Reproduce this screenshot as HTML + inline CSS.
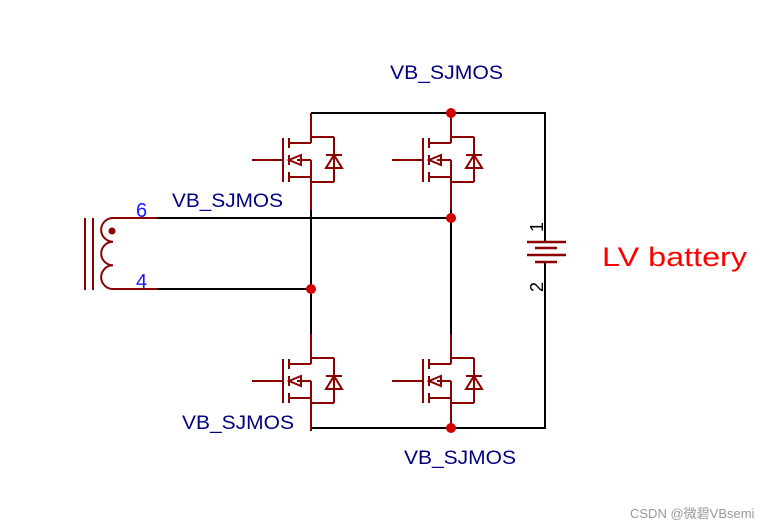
<!DOCTYPE html>
<html><head><meta charset="utf-8"><style>
html,body{margin:0;padding:0;background:#fff;}
svg{display:block;}
text{font-family:"Liberation Sans","Noto Sans CJK SC",sans-serif;}
</style></head><body>
<svg width="767" height="527" viewBox="0 0 767 527" xmlns="http://www.w3.org/2000/svg">
<defs>
<g id="m" fill="none" stroke="#8b0000" stroke-width="2">
  <line x1="0" y1="-24" x2="0" y2="6"/>
  <line x1="0" y1="23" x2="0" y2="73"/>
  <line x1="0" y1="0" x2="23" y2="0"/>
  <line x1="23" y1="0" x2="23" y2="45"/>
  <line x1="0" y1="45" x2="23" y2="45"/>
  <line x1="-28" y1="1" x2="-28" y2="45"/>
  <line x1="-22" y1="1" x2="-22" y2="11"/>
  <line x1="-22" y1="18" x2="-22" y2="28"/>
  <line x1="-22" y1="35" x2="-22" y2="45"/>
  <line x1="-22" y1="6" x2="0" y2="6"/>
  <line x1="-14" y1="23" x2="0" y2="23"/>
  <line x1="-22" y1="40" x2="0" y2="40"/>
  <line x1="-59" y1="23" x2="-28" y2="23"/>
  <polygon points="-22,23 -10,18 -10,28"/>
  <line x1="15" y1="18" x2="31" y2="18"/>
  <polygon points="23,18 15,31 31,31"/>
</g>
</defs>
<g stroke="#000" stroke-width="2" fill="none">
  <line x1="311" y1="113" x2="546" y2="113"/>
  <line x1="311" y1="113" x2="311" y2="118"/>
  <line x1="451" y1="113" x2="451" y2="118"/>
  <line x1="545" y1="113" x2="545" y2="242"/>
  <line x1="545" y1="262" x2="545" y2="429"/>
  <line x1="311" y1="428" x2="546" y2="428"/>
  <line x1="311" y1="205" x2="311" y2="338"/>
  <line x1="451" y1="205" x2="451" y2="338"/>
  <line x1="158" y1="218" x2="451" y2="218"/>
  <line x1="158" y1="289" x2="311" y2="289"/>
  <line x1="311" y1="420" x2="311" y2="428"/>
  <line x1="451" y1="420" x2="451" y2="428"/>
</g>
<use href="#m" transform="translate(311,137)"/>
<use href="#m" transform="translate(451,137)"/>
<use href="#m" transform="translate(311,358)"/>
<use href="#m" transform="translate(451,358)"/>
<g fill="#d00000">
  <circle cx="451" cy="113" r="5"/>
  <circle cx="451" cy="218" r="5"/>
  <circle cx="311" cy="289" r="5"/>
  <circle cx="451" cy="428" r="5"/>
</g>
<g stroke="#8b0000" stroke-width="2" fill="none">
  <line x1="85" y1="218" x2="85" y2="290"/>
  <line x1="93" y1="218" x2="93" y2="290"/>
  <path d="M158,218 H113 A11.8,11.8 0 0 0 113,241.7 A11.8,11.8 0 0 0 113,265.3 A11.8,11.8 0 0 0 113,289 H158"/>
</g>
<circle cx="112" cy="231" r="3.5" fill="#8b0000"/>
<text x="136" y="217" font-size="20" fill="#1a1aff">6</text>
<text x="136" y="288" font-size="20" fill="#1a1aff">4</text>
<g stroke="#8b0000" stroke-width="2.5">
  <line x1="527" y1="242" x2="566" y2="242"/>
  <line x1="535" y1="248" x2="557" y2="248"/>
  <line x1="527" y1="255" x2="566" y2="255"/>
  <line x1="535" y1="262" x2="557" y2="262"/>
</g>
<text transform="translate(543,232) rotate(-90)" font-size="18" fill="#000">1</text>
<text transform="translate(543,292) rotate(-90)" font-size="18" fill="#000">2</text>
<text x="602" y="266" font-size="27" fill="#ff0000" textLength="145" lengthAdjust="spacingAndGlyphs">LV battery</text>
<g font-size="19" fill="#000080">
  <text x="390" y="79" textLength="113" lengthAdjust="spacingAndGlyphs">VB_SJMOS</text>
  <text x="172" y="207" textLength="111" lengthAdjust="spacingAndGlyphs">VB_SJMOS</text>
  <text x="182" y="429" textLength="112" lengthAdjust="spacingAndGlyphs">VB_SJMOS</text>
  <text x="404" y="464" textLength="112" lengthAdjust="spacingAndGlyphs">VB_SJMOS</text>
</g>
<text x="630" y="518" font-size="13" fill="#999">CSDN @微碧VBsemi</text>
</svg>
</body></html>
